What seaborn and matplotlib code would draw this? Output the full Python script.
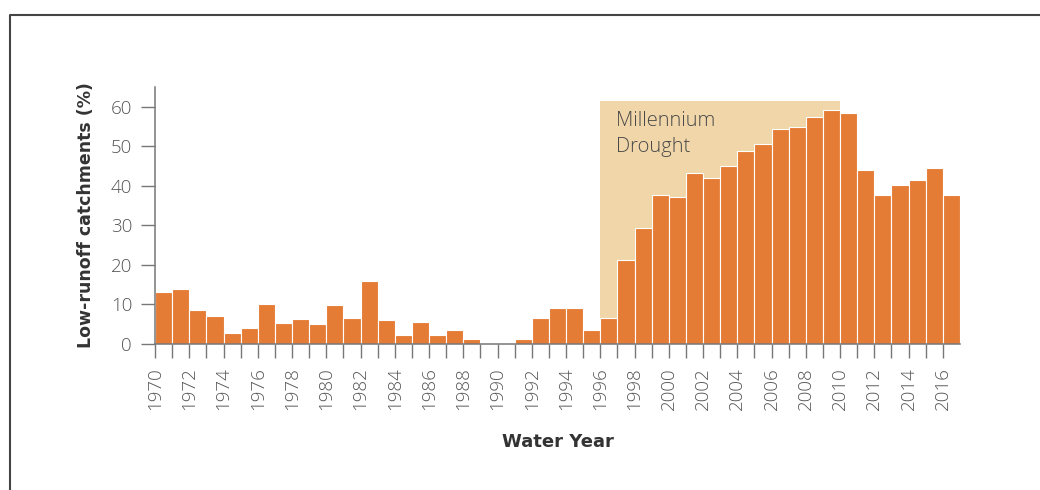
import matplotlib
matplotlib.use("Agg")
import matplotlib.pyplot as plt
from matplotlib.lines import Line2D
import numpy as np
import pandas as pd
import seaborn as sns

# Share of catchments with low runoff, by water year
years = list(range(1970, 2017))
low_runoff_pct = [
    13.2, 14.0, 8.6, 7.2, 2.8, 4.1, 10.2, 5.2, 6.4, 5.0,
    9.8, 6.7, 15.9, 6.1, 2.4, 5.5, 2.4, 3.6, 1.2, 0.0,
    0.0, 1.2, 6.7, 9.1, 9.1, 3.6, 6.7, 21.2, 29.3, 37.7,
    37.1, 43.2, 42.1, 45.1, 48.8, 50.6, 54.3, 54.8, 57.3, 59.1,
    58.5, 43.9, 37.7, 40.3, 41.4, 44.5, 37.7,
]
drought_start, drought_end = 1996, 2010
drought_top = 61.5
drought_label = "Millennium\nDrought"
y_ticks = [0, 10, 20, 30, 40, 50, 60]

BAR = "#E57C36"
SHADE = "#F0D6A9"
TICK_GREY = "#555555"
SPINE_GREY = "#777777"
DARK = "#333333"

sns.set_theme(style="white")
plt.rcParams["font.family"] = ["Open Sans", "DejaVu Sans"]

df = pd.DataFrame({"year": [str(y) for y in years], "pct": low_runoff_pct})

fig = plt.figure(figsize=(10.4, 4.9), dpi=100)
ax = fig.add_axes([155 / 1040, 1 - 344 / 490, (960 - 155) / 1040, (344 - 87) / 490])

n = len(years)
# drought period shading, bars occupy [i-0.5, i+0.5] for category i
x0 = years.index(drought_start) - 0.5
x1 = years.index(drought_end) - 0.5
ax.fill_between([x0, x1], 0, drought_top, color=SHADE, linewidth=0, zorder=0)
ax.text(x0 + 0.9, 58.9, drought_label, ha="left", va="top", fontsize=14.5,
        color="#4a4a4a", fontweight="light", linespacing=1.4, zorder=1)

sns.barplot(data=df, x="year", y="pct", color=BAR, saturation=1, width=1.0,
            edgecolor="white", linewidth=0.8, ax=ax, zorder=2)

ax.set_xlim(-0.5, n - 0.5)
ax.set_ylim(0, 65)
ax.set_xticks(np.arange(n) - 0.5)
ax.set_xticklabels([str(y) if (y - 1970) % 2 == 0 else "" for y in years],
                   rotation=90, fontsize=13.5, color=TICK_GREY, fontweight="light")
ax.set_yticks(y_ticks)
ax.set_yticklabels([str(v) for v in y_ticks], fontsize=13.5, color=TICK_GREY,
                   fontweight="light")
ax.tick_params(axis="both", which="both", length=10, width=1, color=SPINE_GREY,
               bottom=True, left=True, pad=6.5)

for side in ("top", "right"):
    ax.spines[side].set_visible(False)
for side in ("left", "bottom"):
    ax.spines[side].set_color(SPINE_GREY)
    ax.spines[side].set_linewidth(1.1)

ax.set_xlabel("Water Year", fontsize=13, fontweight="bold", color=DARK,
              labelpad=17, family=["DejaVu Sans"])
ax.set_ylabel("Low-runoff catchments (%)", fontsize=12.5, fontweight="bold",
              color=DARK, labelpad=11, family=["DejaVu Sans"])

# page frame running off the right and bottom edges
fig.add_artist(Line2D([10 / 1040, 10 / 1040, 1.05], [-0.05, 1 - 15 / 490, 1 - 15 / 490],
                      transform=fig.transFigure, color="#444444", linewidth=1.5))

fig.savefig("out.png", dpi=100, facecolor="white")
